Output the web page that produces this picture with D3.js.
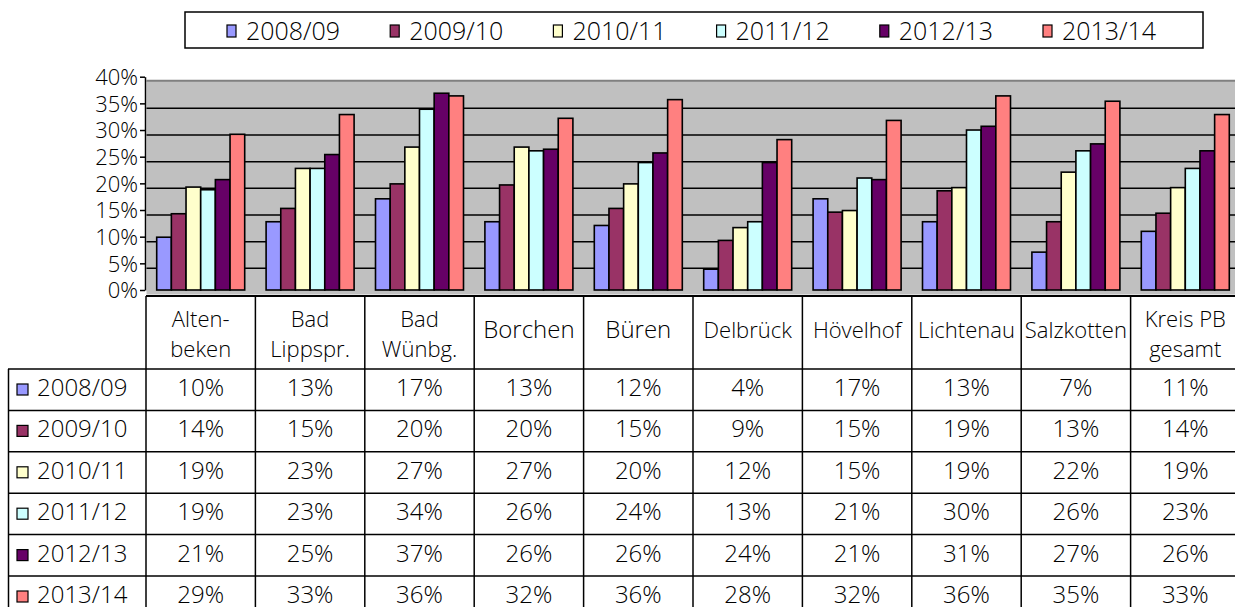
<!DOCTYPE html>
<html>
<head>
<meta charset="utf-8">
<script src="https://cdn.jsdelivr.net/npm/d3@7/dist/d3.min.js"></script>
<style>
    body { margin: 0; background: #fff; }
    svg text { font-family: "Open Sans", "DejaVu Sans", sans-serif; fill: #000; font-weight: 300; }
</style>
</head>
<body>
<svg id="chart" width="1235" height="607"></svg>
<script>
// categories (table header, two lines where the original wraps)
const categories = ["Altenbeken", "Bad Lippspr.", "Bad Wünbg.", "Borchen", "Büren",
    "Delbrück", "Hövelhof", "Lichtenau", "Salzkotten", "Kreis PB gesamt"];
const headerLines = [["Alten-", "beken"], ["Bad", "Lippspr."], ["Bad", "Wünbg."], ["Borchen"], ["Büren"],
    ["Delbrück"], ["Hövelhof"], ["Lichtenau"], ["Salzkotten"], ["Kreis PB", "gesamt"]];
const seriesNames = ["2008/09", "2009/10", "2010/11", "2011/12", "2012/13", "2013/14"];
const seriesColors = ["#9999ff", "#993366", "#ffffcc", "#ccffff", "#660066", "#ff8080"];

// values (table shows them rounded)
const v0809 = [0.099, 0.128, 0.171, 0.128, 0.121, 0.039, 0.171, 0.128, 0.071, 0.110];
const v0910 = [0.143, 0.153, 0.199, 0.197, 0.153, 0.093, 0.146, 0.186, 0.128, 0.144];
const v1011 = [0.193, 0.228, 0.268, 0.268, 0.199, 0.117, 0.149, 0.192, 0.221, 0.192];
const v1112 = [0.188, 0.228, 0.339, 0.261, 0.239, 0.128, 0.210, 0.300, 0.261, 0.228];
const v1213 = [0.207, 0.254, 0.369, 0.264, 0.257, 0.239, 0.207, 0.307, 0.274, 0.261];
const v1314 = [0.292, 0.329, 0.364, 0.322, 0.357, 0.282, 0.318, 0.364, 0.354, 0.329];
const seriesValues = [v0809, v0910, v1011, v1112, v1213, v1314];

const yTicks = [0, 0.05, 0.10, 0.15, 0.20, 0.25, 0.30, 0.35, 0.40];

const svg = d3.select("#chart");
const pct = d3.format(".0%");

const tableLeft = 146, colW = 109.4, rowTop = 369, rowH = 41.4;

let y = d3.scaleLinear().domain([0, 0.4]).range([290, 76.7]);
let x0 = d3.scaleBand().domain(categories)
    .range([tableLeft, tableLeft + categories.length * colW]);
let x1 = d3.scaleBand().domain(seriesNames).range([10.7, 98.7]);
let rowY = d3.scaleBand().domain(seriesNames)
    .range([rowTop, rowTop + seriesNames.length * rowH]);

// back wall
svg.append("rect")
    .attr("x", tableLeft + 0.5).attr("y", y(0.4) + 4)
    .attr("width", 1240 - tableLeft).attr("height", y(0) - y(0.4) + 0.5)
    .attr("fill", "#c0c0c0");
svg.append("line")
    .attr("x1", tableLeft + 0.5).attr("x2", 1240)
    .attr("y1", y(0.4) + 4).attr("y2", y(0.4) + 4)
    .attr("stroke", "#808080").attr("stroke-width", 2);

// gridlines (sit a few px lower on the back wall)
svg.append("g")
    .selectAll("line")
    .data(yTicks.filter(t => t > 0 && t < 0.4))
    .enter().append("line")
    .attr("x1", tableLeft + 0.5).attr("x2", 1240)
    .attr("y1", d => y(d) + 5).attr("y2", d => y(d) + 5)
    .attr("stroke", "#000").attr("stroke-width", 1.5);

// y axis
let yAxis = svg.append("g")
    .attr("transform", "translate(" + 145 + ",0)")
    .call(d3.axisLeft(y).tickValues(yTicks).tickSize(5).tickSizeOuter(0).tickFormat(pct));
yAxis.select(".domain").attr("stroke", "#000").attr("stroke-width", 1.5);
yAxis.selectAll(".tick line").attr("stroke", "#000").attr("stroke-width", 1.5);
yAxis.selectAll(".tick text")
    .attr("x", -7).attr("dy", "0.36em")
    .attr("font-size", "22px")
    .style("font-family", "\"Open Sans\", sans-serif");

// bars
let groups = svg.append("g").selectAll("g")
    .data(categories)
    .enter().append("g")
    .attr("transform", d => "translate(" + x0(d) + ",0)");

groups.selectAll("rect")
    .data((c, ci) => seriesNames.map((s, si) => ({series: s, si: si, value: seriesValues[si][ci]})))
    .enter().append("rect")
    .attr("x", d => x1(d.series))
    .attr("width", x1.bandwidth())
    .attr("y", d => y(d.value))
    .attr("height", d => y(0) - y(d.value))
    .attr("fill", d => seriesColors[d.si])
    .attr("stroke", "#000")
    .attr("stroke-width", 1.6);

// data table
let table = svg.append("g");
const tableBottom = 620;

table.append("line")
    .attr("x1", tableLeft).attr("x2", 1240).attr("y1", 296).attr("y2", 296)
    .attr("stroke", "#000").attr("stroke-width", 2);

// vertical borders
table.selectAll(".vline")
    .data(categories)
    .enter().append("line")
    .attr("class", "vline")
    .attr("x1", d => x0(d)).attr("x2", d => x0(d))
    .attr("y1", 296).attr("y2", tableBottom)
    .attr("stroke", "#000").attr("stroke-width", 1.5);
table.append("line")
    .attr("x1", 8.5).attr("x2", 8.5).attr("y1", rowTop).attr("y2", tableBottom)
    .attr("stroke", "#000").attr("stroke-width", 1.5);

// horizontal borders
table.selectAll(".hline")
    .data(seriesNames)
    .enter().append("line")
    .attr("class", "hline")
    .attr("x1", 8).attr("x2", 1240)
    .attr("y1", d => rowY(d)).attr("y2", d => rowY(d))
    .attr("stroke", "#000").attr("stroke-width", 1.5);

// header labels
const headerSize = {"Borchen": 24, "Büren": 24};
groups.each(function (c, ci) {
    let lines = headerLines[ci];
    let size = headerSize[c] || 22;
    let t = d3.select(this).append("text")
        .attr("text-anchor", "middle")
        .attr("font-size", size + "px");
    lines.forEach((ln, li) => {
        t.append("tspan")
            .attr("x", colW / 2)
            .attr("y", lines.length === 1 ? 338 : 327 + li * 30)
            .text(ln);
    });
});

// row labels with colour keys
let rows = table.selectAll(".row")
    .data(seriesNames)
    .enter().append("g")
    .attr("class", "row")
    .attr("transform", d => "translate(0," + rowY(d) + ")");

rows.append("rect")
    .attr("x", 17).attr("y", 15).attr("width", 11).attr("height", 11)
    .attr("fill", (d, i) => seriesColors[i])
    .attr("stroke", "#000").attr("stroke-width", 1.2);

rows.append("text")
    .attr("x", 37).attr("y", 27)
    .attr("font-size", "24px")
    .text(d => d);

rows.each(function (s, si) {
    d3.select(this).selectAll(".val")
        .data(categories)
        .enter().append("text")
        .attr("class", "val")
        .attr("x", c => x0(c) + colW / 2)
        .attr("y", 27)
        .attr("text-anchor", "middle")
        .attr("font-size", "24px")
        .text((c, ci) => pct(seriesValues[si][ci]));
});

// legend
let legend = svg.append("g");
legend.append("rect")
    .attr("x", 185).attr("y", 12).attr("width", 1018).attr("height", 36)
    .attr("fill", "#fff").attr("stroke", "#000").attr("stroke-width", 1.5);

let legendX = d3.scalePoint().domain(seriesNames).range([227, 227 + 5 * 163.2]);

let items = legend.selectAll(".item")
    .data(seriesNames)
    .enter().append("g")
    .attr("class", "item")
    .attr("transform", d => "translate(" + legendX(d) + ",0)");

items.append("rect")
    .attr("x", 0).attr("y", 25).attr("width", 9).attr("height", 12)
    .attr("fill", (d, i) => seriesColors[i])
    .attr("stroke", "#000").attr("stroke-width", 1.2);

items.append("text")
    .attr("x", 19).attr("y", 40)
    .attr("font-size", "25px")
    .text(d => d);
</script>
</body>
</html>
